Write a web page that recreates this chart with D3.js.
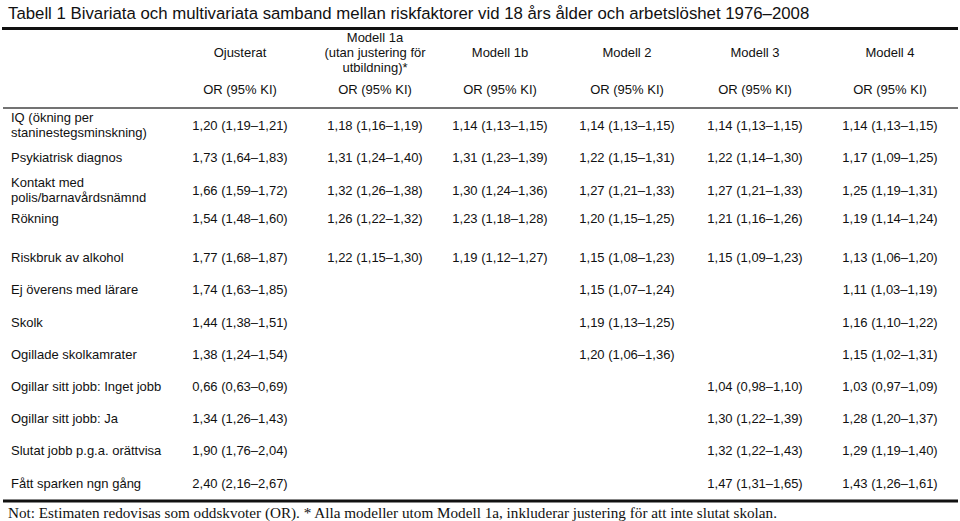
<!DOCTYPE html>
<html>
<head>
<meta charset="utf-8">
<script src="https://cdn.jsdelivr.net/npm/d3@7"></script>
<style>
  body { margin: 0; background: #fff; }
  text { fill: #111; }
</style>
</head>
<body>
<div id="table"></div>
<script>
// table content
var title = "Tabell 1 Bivariata och multivariata samband mellan riskfaktorer vid 18 års ålder och arbetslöshet 1976–2008";
var footnote = "Not: Estimaten redovisas som oddskvoter (OR). * Alla modeller utom Modell 1a, inkluderar justering för att inte slutat skolan.";

var models = [["Ojusterat"], ["Modell 1a", "(utan justering för", "utbildning)*"], ["Modell 1b"], ["Modell 2"], ["Modell 3"], ["Modell 4"]];
var subHeader = "OR (95% KI)";

var factors = [
  ["IQ (ökning per", "staninestegsminskning)"],
  ["Psykiatrisk diagnos"],
  ["Kontakt med", "polis/barnavårdsnämnd"],
  ["Rökning"],
  ["Riskbruk av alkohol"],
  ["Ej överens med lärare"],
  ["Skolk"],
  ["Ogillade skolkamrater"],
  ["Ogillar sitt jobb: Inget jobb"],
  ["Ogillar sitt jobb: Ja"],
  ["Slutat jobb p.g.a. orättvisa"],
  ["Fått sparken ngn gång"]
];

var ojusterat = ["1,20 (1,19–1,21)", "1,73 (1,64–1,83)", "1,66 (1,59–1,72)", "1,54 (1,48–1,60)", "1,77 (1,68–1,87)", "1,74 (1,63–1,85)", "1,44 (1,38–1,51)", "1,38 (1,24–1,54)", "0,66 (0,63–0,69)", "1,34 (1,26–1,43)", "1,90 (1,76–2,04)", "2,40 (2,16–2,67)"];
var modell1a = ["1,18 (1,16–1,19)", "1,31 (1,24–1,40)", "1,32 (1,26–1,38)", "1,26 (1,22–1,32)", "1,22 (1,15–1,30)", null, null, null, null, null, null, null];
var modell1b = ["1,14 (1,13–1,15)", "1,31 (1,23–1,39)", "1,30 (1,24–1,36)", "1,23 (1,18–1,28)", "1,19 (1,12–1,27)", null, null, null, null, null, null, null];
var modell2 = ["1,14 (1,13–1,15)", "1,22 (1,15–1,31)", "1,27 (1,21–1,33)", "1,20 (1,15–1,25)", "1,15 (1,08–1,23)", "1,15 (1,07–1,24)", "1,19 (1,13–1,25)", "1,20 (1,06–1,36)", null, null, null, null];
var modell3 = ["1,14 (1,13–1,15)", "1,22 (1,14–1,30)", "1,27 (1,21–1,33)", "1,21 (1,16–1,26)", "1,15 (1,09–1,23)", null, null, null, "1,04 (0,98–1,10)", "1,30 (1,22–1,39)", "1,32 (1,22–1,43)", "1,47 (1,31–1,65)"];
var modell4 = ["1,14 (1,13–1,15)", "1,17 (1,09–1,25)", "1,25 (1,19–1,31)", "1,19 (1,14–1,24)", "1,13 (1,06–1,20)", "1,11 (1,03–1,19)", "1,16 (1,10–1,22)", "1,15 (1,02–1,31)", "1,03 (0,97–1,09)", "1,28 (1,20–1,37)", "1,29 (1,19–1,40)", "1,43 (1,26–1,61)"];

var columns = [ojusterat, modell1a, modell1b, modell2, modell3, modell4];

// layout
var svgWidth = 960;
var svgHeight = 521;
var colCenters = [240, 375, 500, 627, 755, 890];
var rowGaps = [0, 32, 33, 28, 39, 32, 33, 32, 32, 32, 32, 33];
var firstRow = 125;
var lineH = 15;
var bodyFont = "'Liberation Sans', Arial, sans-serif";
var bodySize = "13px";

var svg = d3.select("#table")
  .append("svg")
  .attr("width", svgWidth)
  .attr("height", svgHeight);

var xCol = d3.scaleOrdinal()
  .domain(d3.range(models.length))
  .range(colCenters);

var rowPos = d3.cumsum(rowGaps).map(d => firstRow + d);
var yRow = d3.scaleOrdinal()
  .domain(d3.range(factors.length))
  .range(rowPos);

// title
svg.append("text")
  .attr("x", 8)
  .attr("y", 13)
  .attr("dy", "0.35em")
  .attr("font-family", bodyFont)
  .attr("font-size", "16.8px")
  .text(title);

// rules
svg.append("line")
  .attr("x1", 2).attr("x2", 958)
  .attr("y1", 28.5).attr("y2", 28.5)
  .attr("stroke", "#111")
  .attr("stroke-width", 3);

svg.append("line")
  .attr("x1", 3).attr("x2", 958)
  .attr("y1", 108).attr("y2", 108)
  .attr("stroke", "#444")
  .attr("stroke-width", 1.5);

svg.append("line")
  .attr("x1", 3).attr("x2", 958)
  .attr("y1", 501).attr("y2", 501)
  .attr("stroke", "#111")
  .attr("stroke-width", 3);

// column headers
var headers = svg.selectAll(".colhead")
  .data(models)
  .enter()
  .append("text")
  .attr("class", "colhead")
  .attr("x", (d, i) => xCol(i))
  .attr("y", d => 52 - (d.length - 1) * lineH / 2)
  .attr("text-anchor", "middle")
  .attr("font-family", bodyFont)
  .attr("font-size", bodySize);

headers.selectAll("tspan")
  .data(d => d)
  .enter()
  .append("tspan")
  .attr("x", function() { return this.parentNode.getAttribute("x"); })
  .attr("dy", (d, i) => i == 0 ? "0.35em" : lineH)
  .text(d => d);

svg.selectAll(".subhead")
  .data(models)
  .enter()
  .append("text")
  .attr("class", "subhead")
  .attr("x", (d, i) => xCol(i))
  .attr("y", 89)
  .attr("dy", "0.35em")
  .attr("text-anchor", "middle")
  .attr("font-family", bodyFont)
  .attr("font-size", bodySize)
  .text(subHeader);

// row labels
var labels = svg.selectAll(".rowlabel")
  .data(factors)
  .enter()
  .append("text")
  .attr("class", "rowlabel")
  .attr("x", 11)
  .attr("y", (d, i) => yRow(i) - (d.length - 1) * lineH / 2)
  .attr("font-family", bodyFont)
  .attr("font-size", bodySize);

labels.selectAll("tspan")
  .data(d => d)
  .enter()
  .append("tspan")
  .attr("x", 11)
  .attr("dy", (d, i) => i == 0 ? "0.35em" : lineH)
  .text(d => d);

// cells
columns.forEach(function(col, c) {
  svg.selectAll(".cell" + c)
    .data(col.map((v, r) => ({v: v, r: r})).filter(d => d.v !== null))
    .enter()
    .append("text")
    .attr("class", "cell" + c)
    .attr("x", xCol(c))
    .attr("y", d => yRow(d.r))
    .attr("dy", "0.35em")
    .attr("text-anchor", "middle")
    .attr("font-family", bodyFont)
    .attr("font-size", bodySize)
    .text(d => d.v);
});

// footnote
svg.append("text")
  .attr("x", 8)
  .attr("y", 513)
  .attr("dy", "0.35em")
  .attr("font-family", "'Liberation Serif', 'Times New Roman', serif")
  .attr("font-size", "15.2px")
  .text(footnote);
</script>
</body>
</html>
